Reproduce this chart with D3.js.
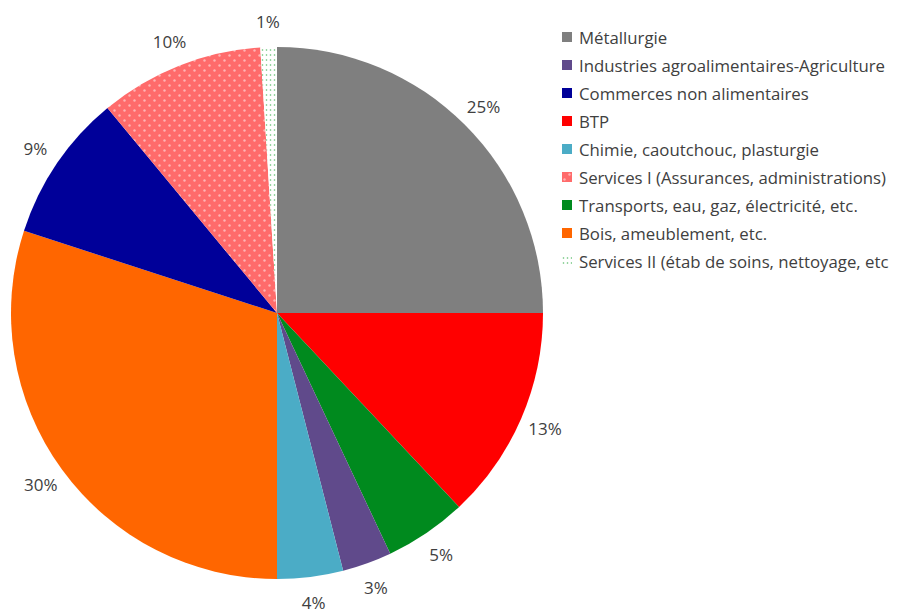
<!DOCTYPE html>
<html><head><meta charset="utf-8">
<script src="https://cdn.jsdelivr.net/npm/d3@7"></script>
<style>body{margin:0;background:#fff;}svg{display:block;}</style>
</head><body>
<script>
const pieOrder = ["Métallurgie","BTP","Transports, eau, gaz, électricité, etc.","Industries agroalimentaires-Agriculture","Chimie, caoutchouc, plasturgie","Bois, ameublement, etc.","Commerces non alimentaires","Services I (Assurances, administrations)","Services II (étab de soins, nettoyage, etc"];
const pieValues = [25,13,5,3,4,30,9,10,1];
const pieColors = ["#7f7f7f","#ff0000","#008a1e","#604a8b","#4bacc6","#ff6600","#000099","url(#pinkDots)","url(#greenDots)"];
const legendOrder = ["Métallurgie","Industries agroalimentaires-Agriculture","Commerces non alimentaires","BTP","Chimie, caoutchouc, plasturgie","Services I (Assurances, administrations)","Transports, eau, gaz, électricité, etc.","Bois, ameublement, etc.","Services II (étab de soins, nettoyage, etc"];
const legendColors = ["#7f7f7f","#604a8b","#000099","#ff0000","#4bacc6","url(#pinkDots)","#008a1e","#ff6600","url(#greenDots)"];

const W=913,H=614, cx=277, cy=313, R=266, labelR=292;
const svg=d3.select("body").append("svg").attr("width",W).attr("height",H);
const defs=svg.append("defs");
const p1=defs.append("pattern").attr("id","pinkDots").attr("patternUnits","userSpaceOnUse").attr("width",10).attr("height",10);
p1.append("rect").attr("width",10).attr("height",10).attr("fill","#ff6b6b");
p1.append("circle").attr("cx",2.5).attr("cy",2.5).attr("r",1.2).attr("fill","#ffb3b3");
p1.append("circle").attr("cx",7.5).attr("cy",7.5).attr("r",1.2).attr("fill","#ffb3b3");
const p2=defs.append("pattern").attr("id","greenDots").attr("patternUnits","userSpaceOnUse").attr("width",4).attr("height",5);
p2.append("rect").attr("width",4).attr("height",5).attr("fill","#ffffff");
p2.append("circle").attr("cx",1.5).attr("cy",2).attr("r",0.8).attr("fill","#5fbf6f");

const pie=d3.pie().sort(null).value(d=>d)(pieValues);
const arc=d3.arc().innerRadius(0).outerRadius(R);
const g=svg.append("g").attr("transform",`translate(${cx},${cy})`);
g.selectAll("path").data(pie).join("path").attr("d",arc).attr("fill",(d,i)=>pieColors[i]);
const la=d3.arc().innerRadius(labelR).outerRadius(labelR);
g.selectAll("text").data(pie).join("text")
 .attr("transform",d=>`translate(${la.centroid(d)})`)
 .attr("text-anchor","middle").attr("dominant-baseline","central")
 .attr("font-family","'Open Sans', sans-serif").attr("font-size",17).attr("fill","#404040")
 .text(d=>d.value+"%");

const lg=svg.append("g").attr("transform","translate(562,37)");
const items=lg.selectAll("g").data(legendOrder).join("g").attr("transform",(d,i)=>`translate(0,${i*28})`);
items.append("rect").attr("x",0).attr("y",-5).attr("width",10).attr("height",10).attr("fill",(d,i)=>legendColors[i]);
items.append("text").attr("x",17).attr("y",0).attr("dominant-baseline","central")
 .attr("font-family","'Open Sans', sans-serif").attr("font-size",16.8).attr("fill","#404040").text(d=>d);
</script>
</body></html>
